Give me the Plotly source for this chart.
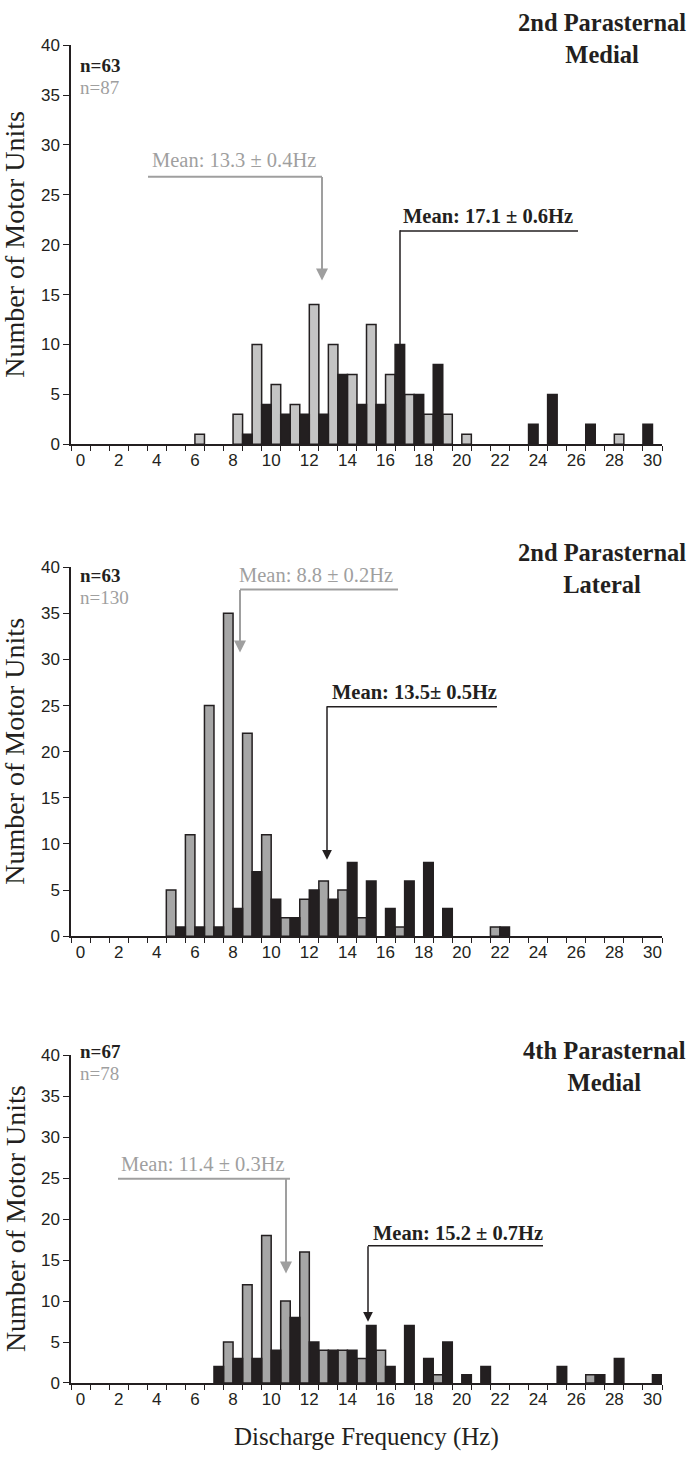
import plotly.graph_objects as go

W, H = 689, 1467

# ---------------- data ----------------
freq = list(range(31))                      # discharge-frequency bins (Hz)
tick_labels = [str(v) for v in range(0, 31, 2)]

p1_black = [0,0,0,0,0,0,0,0,0,1,4,3,3,3,7,4,4,10,5,8,0,0,0,0,2,5,0,2,0,0,2]
p1_gray  = [0,0,0,0,0,0,1,0,3,10,6,4,14,10,7,12,7,5,3,3,1,0,0,0,0,0,0,0,1,0,0]

p2_gray  = [0,0,0,0,0,5,11,25,35,22,11,2,4,6,5,2,0,1,0,0,0,0,1,0,0,0,0,0,0,0,0]
p2_black = [0,0,0,0,0,1,1,1,3,7,4,2,5,4,8,6,3,6,8,3,0,0,1,0,0,0,0,0,0,0,0]

p3_gray  = [0,0,0,0,0,0,0,0,5,12,18,10,16,4,4,3,4,0,0,1,0,0,0,0,0,0,0,1,0,0,0]
p3_black = [0,0,0,0,0,0,0,2,3,3,4,8,5,4,4,7,2,7,3,5,1,2,0,0,0,2,0,1,3,0,1]

titles = [("2nd Parasternal", "Medial"), ("2nd Parasternal", "Lateral"), ("4th Parasternal", "Medial")]
n_black = ["n=63", "n=63", "n=67"]
n_gray = ["n=87", "n=130", "n=78"]
mean_gray = ["Mean: 13.3 \u00b1 0.4Hz", "Mean: 8.8 \u00b1 0.2Hz", "Mean: 11.4 \u00b1 0.3Hz"]
mean_black = ["Mean: 17.1 \u00b1 0.6Hz", "Mean: 13.5\u00b1 0.5Hz", "Mean: 15.2 \u00b1 0.7Hz"]

# ---------------- styling / layout geometry (pixels) ----------------
BLACK = "#231f20"
GRAY_TXT = "#9f9f9f"
gray_fill = ["#c4c4c4", "#a6a6a6", "#a6a6a6"]
# gray bar offset within bin (panel 1: black left / gray right; panels 2,3: gray left / black right)
gray_side = [0.25, -0.25, -0.25]

X0, X1 = 71, 662
panels_px = [(36.7, 441.0), (565.5, 939.4), (1060.0, 1392.0)]   # (y of 40, y of 0)

SERIF = "Liberation Serif, Times New Roman, serif"
SANS = "Liberation Sans, Arial, sans-serif"


def px(x):
    return x / W


def py(y):
    return 1 - y / H


def nz(xs, ys):
    pts = [(a, b) for a, b in zip(xs, ys) if b > 0]
    return [p[0] for p in pts], [p[1] for p in pts]


fig = go.Figure()
series = [(p1_black, p1_gray), (p2_black, p2_gray), (p3_black, p3_gray)]
for i, (blk, gry) in enumerate(series):
    xa = "x" if i == 0 else f"x{i+1}"
    ya = "y" if i == 0 else f"y{i+1}"
    gs = gray_side[i]
    gx, gy = nz([f + gs for f in freq], gry)
    bx, by = nz([f - gs for f in freq], blk)
    fig.add_trace(go.Bar(x=gx, y=gy, width=0.5, xaxis=xa, yaxis=ya,
                         marker=dict(color=gray_fill[i], line=dict(color=BLACK, width=1.5)),
                         showlegend=False, hoverinfo="y"))
    fig.add_trace(go.Bar(x=bx, y=by, width=0.5, xaxis=xa, yaxis=ya,
                         marker=dict(color=BLACK, line=dict(color=BLACK, width=1.5)),
                         showlegend=False, hoverinfo="y"))

layout = dict(width=W, height=H, margin=dict(l=0, r=0, t=0, b=0),
              plot_bgcolor="white", paper_bgcolor="white", barmode="overlay",
              font=dict(family=SANS, color=BLACK))

for i, (ytop, ybot) in enumerate(panels_px):
    sx = "" if i == 0 else str(i + 1)
    layout[f"xaxis{sx}"] = dict(
        domain=[px(X0), px(X1)], range=[-0.5, 30.5], anchor=f"y{sx}",
        tickvals=list(range(0, 31, 2)), ticktext=tick_labels, ticks="",
        tickfont=dict(size=17, color=BLACK, family=SANS),
        showline=True, linecolor=BLACK, linewidth=1.5, showgrid=False, zeroline=False,
        minor=dict(tickvals=[v - 0.5 for v in range(32)], ticks="outside", ticklen=5,
                   tickwidth=1.3, tickcolor=BLACK, showgrid=False),
        fixedrange=True)
    layout[f"yaxis{sx}"] = dict(
        domain=[py(ybot), py(ytop)], range=[0, 40], anchor=f"x{sx}",
        tickvals=list(range(0, 41, 5)), ticks="outside", ticklen=6, tickwidth=1.3,
        tickcolor=BLACK, tickfont=dict(size=17, color=BLACK, family=SANS),
        showline=True, linecolor=BLACK, linewidth=1.5, showgrid=False, zeroline=False,
        fixedrange=True)
fig.update_layout(**layout)

ann = []
shapes = []

# text/arrow placements in pixels per panel
geo = [
    dict(nb=57, ng=80, tc=30, gtx=150, gty=153, gl0=148, gl1=322, gly=170, gax=322, gat=275,
         btx=401, bty=210, bl0=400, bl1=578, bly=225, bax=400, bat=408),
    dict(nb=574, ng=596, tc=567, gtx=237, gty=573, gl0=240, gl1=398, gly=588, gax=240, gat=652,
         btx=330, bty=692, bl0=327, bl1=497, bly=707, bax=327, bat=862),
    dict(nb=1056, ng=1078, tc=1071, gtx=119, gty=1170, gl0=118, gl1=290, gly=1185, gax=286, gat=1281,
         btx=371, bty=1240, bl0=368, bl1=543, bly=1253, bax=368, bat=1330),
]

for i, g in enumerate(geo):
    ytop, ybot = panels_px[i]
    ann.append(dict(x=px(78), y=py(g["nb"]), xref="paper", yref="paper", xanchor="left", yanchor="middle",
                    text="<b>" + n_black[i] + "</b>", showarrow=False,
                    font=dict(family=SERIF, size=19, color=BLACK)))
    ann.append(dict(x=px(78), y=py(g["ng"]), xref="paper", yref="paper", xanchor="left", yanchor="middle",
                    text=n_gray[i], showarrow=False, font=dict(family=SERIF, size=19, color=GRAY_TXT)))
    ann.append(dict(x=px(688), y=py(g["tc"]), xref="paper", yref="paper", xanchor="right", yanchor="middle",
                    align="center", text="<b>" + titles[i][0] + "<br>" + titles[i][1] + "</b>",
                    showarrow=False, font=dict(family=SERIF, size=24.5, color=BLACK)))
    ann.append(dict(x=px(15), y=py((ytop + ybot) / 2), xref="paper", yref="paper", xanchor="center",
                    yanchor="middle", text="Number of Motor Units", textangle=-90, showarrow=False,
                    font=dict(family=SERIF, size=28, color=BLACK)))
    # gray mean
    ann.append(dict(x=px(g["gtx"]), y=py(g["gty"]), xref="paper", yref="paper", xanchor="left",
                    yanchor="middle", text=mean_gray[i], showarrow=False,
                    font=dict(family=SERIF, size=20.5, color=GRAY_TXT)))
    shapes.append(dict(type="line", xref="paper", yref="paper", x0=px(g["gl0"]), x1=px(g["gl1"]),
                       y0=py(g["gly"]), y1=py(g["gly"]), line=dict(color=GRAY_TXT, width=2)))
    ann.append(dict(x=px(g["gax"]), y=py(g["gat"]), xref="paper", yref="paper", text="", showarrow=True,
                    ax=0, ay=-(g["gat"] - g["gly"]), arrowhead=2, arrowsize=1.2, arrowwidth=2,
                    arrowcolor=GRAY_TXT))
    # black mean
    ann.append(dict(x=px(g["btx"]), y=py(g["bty"]), xref="paper", yref="paper", xanchor="left",
                    yanchor="middle", text="<b>" + mean_black[i] + "</b>", showarrow=False,
                    font=dict(family=SERIF, size=20.5, color=BLACK)))
    shapes.append(dict(type="line", xref="paper", yref="paper", x0=px(g["bl0"]), x1=px(g["bl1"]),
                       y0=py(g["bly"]), y1=py(g["bly"]), line=dict(color=BLACK, width=1.5)))
    ann.append(dict(x=px(g["bax"]), y=py(g["bat"]), xref="paper", yref="paper", text="", showarrow=True,
                    ax=0, ay=-(g["bat"] - g["bly"]), arrowhead=2, arrowsize=1.3, arrowwidth=1.5,
                    arrowcolor=BLACK))

ann.append(dict(x=px(366), y=py(1447), xref="paper", yref="paper", xanchor="center", yanchor="middle",
                text="Discharge Frequency (Hz)", showarrow=False, font=dict(family=SERIF, size=25, color=BLACK)))

fig.update_layout(annotations=ann, shapes=shapes)
fig.write_html("out.html", config={"displayModeBar": False},
               post_script="document.body.style.margin='0';document.body.style.overflow='hidden';")
